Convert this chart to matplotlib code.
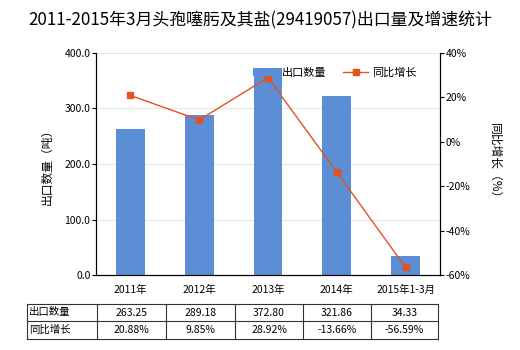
import matplotlib
matplotlib.use("Agg")
import matplotlib.pyplot as plt
from matplotlib.lines import Line2D

plt.rcParams['font.family'] = ['Noto Sans CJK SC', 'DejaVu Sans']

categories = ["2011年", "2012年", "2013年", "2014年", "2015年1-3月"]
export_qty = [263.25, 289.18, 372.80, 321.86, 34.33]
yoy_growth = [20.88, 9.85, 28.92, -13.66, -56.59]
left_ticks = [0, 100, 200, 300, 400]
right_ticks = [-60, -40, -20, 0, 20, 40]

bar_color = "#5B8ED5"
line_color = "#E2531F"

W, H = 520, 350
fig = plt.figure(figsize=(W/100, H/100), dpi=100)
ax = fig.add_axes([96/W, 1-275/H, (440-96)/W, (275-53)/H])
ax2 = ax.twinx()

x = list(range(len(categories)))
ax.bar(x, export_qty, width=0.42, color=bar_color, label="出口数量", zorder=2)
ax.set_xlim(-0.5, 4.5)
ax.set_ylim(0, 400)
ax.set_yticks(left_ticks)
ax.set_yticklabels([f"{v:.1f}" for v in left_ticks], fontsize=7.5)
ax.grid(axis='y', color='#e8e8e0', lw=0.8, zorder=0)
ax.set_xticks(x)
ax.set_xticklabels(categories, fontsize=7.5)
ax.tick_params(axis='x', length=0, pad=7)
ax.tick_params(axis='y', length=3, pad=1)
ax.spines['top'].set_visible(False)
for s in ['left', 'bottom']:
    ax.spines[s].set_color('black')

ax2.plot(x, yoy_growth, color=line_color, lw=1, marker='s', markersize=4, label="同比增长", zorder=3)
ax2.set_ylim(-60, 40)
ax2.set_yticks(right_ticks)
ax2.set_yticklabels([f"{v}%" for v in right_ticks], fontsize=7.5)
ax2.tick_params(axis='y', length=3, pad=1)
ax2.spines['top'].set_visible(False)
ax2.spines['right'].set_color('black')

ax.set_ylabel("出口数量（吨）", fontsize=8.5, labelpad=8)
ax2.set_ylabel("同比增长（%）", fontsize=8.5, rotation=270, labelpad=22)

fig.text(0.5, 1-20/H, "2011-2015年3月头孢噻肟及其盐(29419057)出口量及增速统计", ha='center', va='center', fontsize=12.2)

h1, l1 = ax.get_legend_handles_labels()
h2, l2 = ax2.get_legend_handles_labels()
fig.legend(h1 + h2, l1 + l2, loc='center', bbox_to_anchor=(335/W, 1-73/H), ncol=2,
           frameon=False, fontsize=8, handlelength=2.2, columnspacing=1.5,
           handletextpad=0.4)

# data table
col_edges = [27, 97, 166, 235, 303, 371, 438]
row_edges = [304, 321, 339]
tr = fig.transFigure
def fx(px): return px / W
def fy(py): return 1 - py / H
for ry in row_edges:
    fig.add_artist(Line2D([fx(col_edges[0]), fx(col_edges[-1])], [fy(ry), fy(ry)], color='#333333', lw=0.8, transform=tr))
for cx in col_edges:
    fig.add_artist(Line2D([fx(cx), fx(cx)], [fy(row_edges[0]), fy(row_edges[-1])], color='#333333', lw=0.8, transform=tr))
row_names = ["出口数量", "同比增长"]
row_vals = [[f"{v:.2f}" for v in export_qty], [f"{v:.2f}%" for v in yoy_growth]]
for r in range(2):
    yc = (row_edges[r] + row_edges[r+1]) / 2
    fig.text(fx(col_edges[0] + 2), fy(yc), row_names[r], ha='left', va='center', fontsize=7.5)
    for c in range(5):
        xc = (col_edges[c+1] + col_edges[c+2]) / 2
        fig.text(fx(xc), fy(yc), row_vals[r][c], ha='center', va='center', fontsize=7.5)

fig.savefig("out.png", dpi=100)
